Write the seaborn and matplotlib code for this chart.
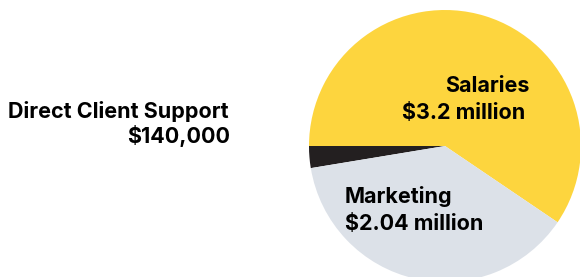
import matplotlib
matplotlib.use("Agg")
import matplotlib.pyplot as plt
import seaborn as sns

# Budget breakdown
categories = ["Salaries", "Direct Client Support", "Marketing"]
amounts = [3.2, 0.14, 2.04]  # millions USD
amount_labels = ["$3.2 million", "$140,000", "$2.04 million"]
colors = ["#fdd53e", "#231f20", "#dce1e8"]

sns.set_theme(style="white")
plt.rcParams['font.family'] = ['Inter', 'DejaVu Sans']

fig = plt.figure(figsize=(5.8, 2.77), dpi=100)
ax = fig.add_axes([0, 0, 1, 1])

# salaries wedge ends at the 9 o'clock position
start = 180 - amounts[0] / sum(amounts) * 360
ax.pie(amounts, colors=colors, startangle=start, counterclock=True,
       center=(445, 131), radius=136, frame=True,
       wedgeprops=dict(linewidth=0))
ax.set_xlim(0, 580)
ax.set_ylim(0, 277)
ax.set_aspect("equal")
ax.axis("off")

txt = dict(fontsize=15.5, fontweight="bold", color="black", va="baseline")
ax.text(529, 277 - 92, categories[0], ha="right", **txt)
ax.text(525, 277 - 119, amount_labels[0], ha="right", **txt)
ax.text(345, 277 - 203, categories[2], ha="left", **txt)
ax.text(345, 277 - 230, amount_labels[2], ha="left", **txt)
ax.text(229, 277 - 118, categories[1], ha="right", **txt)
ax.text(230, 277 - 143, amount_labels[1], ha="right", **txt)

fig.savefig("out.png", dpi=100)
